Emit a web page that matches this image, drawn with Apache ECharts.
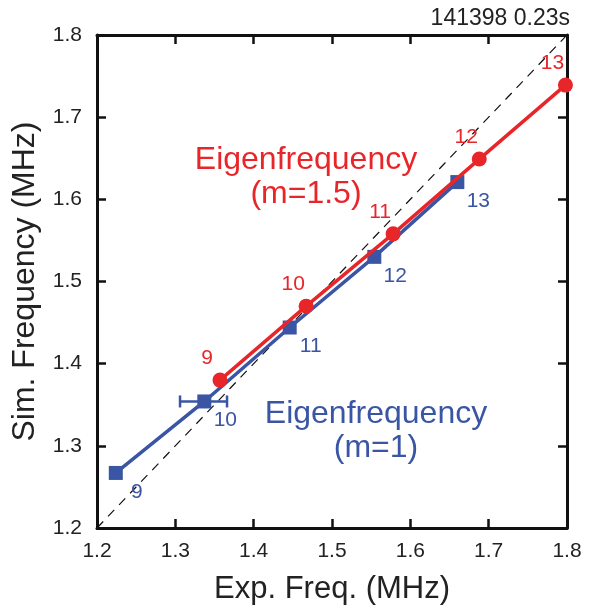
<!DOCTYPE html>
<html><head><meta charset="utf-8">
<script src="https://cdn.jsdelivr.net/npm/echarts@6/dist/echarts.min.js"></script>
<style>html,body{margin:0;padding:0;background:#fff}#c{width:590px;height:610px}</style>
</head><body><div id="c"></div>
<script>
const modes = ['9','10','11','12','13'];
const redX = [1.357, 1.467, 1.578, 1.688, 1.798];
const redY = [1.380, 1.470, 1.558, 1.649, 1.739];
const blueX = [1.224, 1.337, 1.446, 1.554, 1.660];
const blueY = [1.267, 1.354, 1.444, 1.530, 1.621];
const errIndex = [1];
const errLow = [1.306];
const errHigh = [1.366];
const diag = [1.2, 1.8];
const tickVals = [1.2, 1.3, 1.4, 1.5, 1.6, 1.7, 1.8];

const RED = '#e8262a', BLUE = '#3a55a4';
const FONT = 'Liberation Sans';
const chart = echarts.init(document.getElementById('c'), null, {renderer: 'canvas'});

function axisBase(extra) {
  return Object.assign({
    type: 'value', min: 1.2, max: 1.8, interval: 0.1,
    axisLine: {show: true, onZero: false, lineStyle: {color: '#111', width: 3}},
    axisTick: {show: true, inside: true, length: 9, lineStyle: {color: '#111', width: 2.5}},
    splitLine: {show: false},
    axisLabel: {show: false}
  }, extra);
}
const fmt = v => (Math.round(v * 10) / 10).toFixed(1);

const redData = redX.map((x, i) => ({value: [x, redY[i]], name: modes[i]}));
const blueData = blueX.map((x, i) => ({value: [x, blueY[i]], name: modes[i]}));
const errData = errIndex.map((k, i) => [errLow[i], errHigh[i], blueY[k]]);

chart.setOption({
  animation: false,
  backgroundColor: '#fff',
  grid: {left: 97, right: 23, top: 35, bottom: 75, containLabel: false},
  xAxis: [
    axisBase({position: 'bottom', name: 'Exp. Freq. (MHz)', nameLocation: 'middle', nameGap: 46,
      nameTextStyle: {fontFamily: FONT, fontSize: 31, color: '#222'},
      axisLabel: {show: true, color: '#222', fontFamily: FONT, fontSize: 21, margin: 13, formatter: fmt}}),
    axisBase({position: 'top'})
  ],
  yAxis: [
    axisBase({position: 'left', name: 'Sim. Frequency (MHz)', nameLocation: 'middle', nameGap: 56,
      nameTextStyle: {fontFamily: FONT, fontSize: 32, color: '#222'},
      axisLabel: {show: true, color: '#222', fontFamily: FONT, fontSize: 21, margin: 15, formatter: fmt}}),
    axisBase({position: 'right'})
  ],
  series: [
    {
      type: 'line', data: diag.map(v => [v, v]), symbol: 'none', z: 1,
      lineStyle: {color: '#111', width: 1.2, type: [9, 7]}
    },
    {
      type: 'custom', z: 3,
      data: errData,
      renderItem: function (params, api) {
        const a = api.coord([api.value(0), api.value(2)]);
        const b = api.coord([api.value(1), api.value(2)]);
        const h = 6;
        const st = {stroke: BLUE, lineWidth: 2.5};
        return {type: 'group', children: [
          {type: 'line', shape: {x1: a[0], y1: a[1], x2: b[0], y2: b[1]}, style: st},
          {type: 'line', shape: {x1: a[0], y1: a[1] - h, x2: a[0], y2: a[1] + h}, style: st},
          {type: 'line', shape: {x1: b[0], y1: b[1] - h, x2: b[0], y2: b[1] + h}, style: st}
        ]};
      }
    },
    {
      type: 'line', data: blueData, z: 4,
      symbol: 'rect', symbolSize: 14, showAllSymbol: true,
      lineStyle: {color: BLUE, width: 3.5}, itemStyle: {color: BLUE},
      label: {show: true, position: 'inside', offset: [21, 19], formatter: p => p.name,
        color: BLUE, fontFamily: FONT, fontSize: 21}
    },
    {
      type: 'line', data: redData, z: 5,
      symbol: 'circle', symbolSize: 15, showAllSymbol: true,
      lineStyle: {color: RED, width: 3.5}, itemStyle: {color: RED},
      label: {show: true, position: 'inside', offset: [-13, -22], formatter: p => p.name,
        color: RED, fontFamily: FONT, fontSize: 21}
    }
  ],
  graphic: [
    {type: 'text', right: 20, top: 7, style: {text: '141398 0.23s', fill: '#222', font: '23px "Liberation Sans"'}},
    {type: 'text', x: 306, y: 160, style: {text: 'Eigenfrequency', fill: RED, font: '32px "Liberation Sans"', textAlign: 'center', textVerticalAlign: 'middle'}},
    {type: 'text', x: 306, y: 194, style: {text: '(m=1.5)', fill: RED, font: '32px "Liberation Sans"', textAlign: 'center', textVerticalAlign: 'middle'}},
    {type: 'text', x: 376, y: 414, style: {text: 'Eigenfrequency', fill: BLUE, font: '32px "Liberation Sans"', textAlign: 'center', textVerticalAlign: 'middle'}},
    {type: 'text', x: 376, y: 448, style: {text: '(m=1)', fill: BLUE, font: '32px "Liberation Sans"', textAlign: 'center', textVerticalAlign: 'middle'}}
  ]
});
</script></body></html>
